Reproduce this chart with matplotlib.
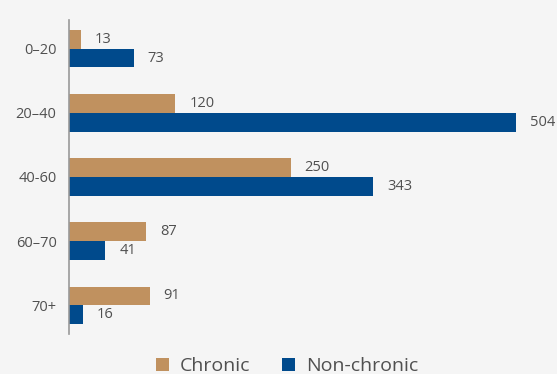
import matplotlib.pyplot as plt
import numpy as np

# data
age_groups = ["0–20", "20–40", "40-60", "60–70", "70+"]
chronic = [13, 120, 250, 87, 91]
non_chronic = [73, 504, 343, 41, 16]

tan = "#C0915F"
blue = "#004A8C"
grey_text = "#505050"
bg = "#F5F5F5"

plt.rcParams["font.family"] = ["Open Sans", "DejaVu Sans"]

fig = plt.figure(figsize=(5.57, 3.74), dpi=100, facecolor=bg)
ax = fig.add_axes([0.1239, 0.107, 0.876, 0.8395], facecolor=bg)

y = np.arange(len(age_groups))
h = 0.29

b1 = ax.barh(y - h / 2, chronic, height=h, color=tan, label="Chronic")
b2 = ax.barh(y + h / 2, non_chronic, height=h, color=blue, label="Non-chronic")

for bars in (b1, b2):
    for rect in bars:
        w = rect.get_width()
        ax.annotate(str(int(w)), (w, rect.get_y() + rect.get_height() / 2),
                    xytext=(10, 0), textcoords="offset points",
                    va="center", ha="left", fontsize=10.5, color=grey_text)

ax.set_yticks(y)
ax.set_yticklabels(age_groups, fontsize=10.5, color=grey_text)
ax.tick_params(axis="y", length=0, pad=9)
ax.set_ylim(4.45, -0.45)
ax.set_xlim(0, 550)
ax.set_xticks([])

for side in ["top", "right", "bottom"]:
    ax.spines[side].set_visible(False)
ax.spines["left"].set_color("#999999")
ax.spines["left"].set_linewidth(1.2)

fig.legend(handles=[b1, b2], loc="lower center", bbox_to_anchor=(0.515, -0.05),
           ncol=2, frameon=False, fontsize=14, handlelength=0.7, handleheight=0.7,
           columnspacing=1.6, handletextpad=0.55, labelcolor=grey_text)

fig.savefig("out.png", dpi=100, facecolor=bg)
